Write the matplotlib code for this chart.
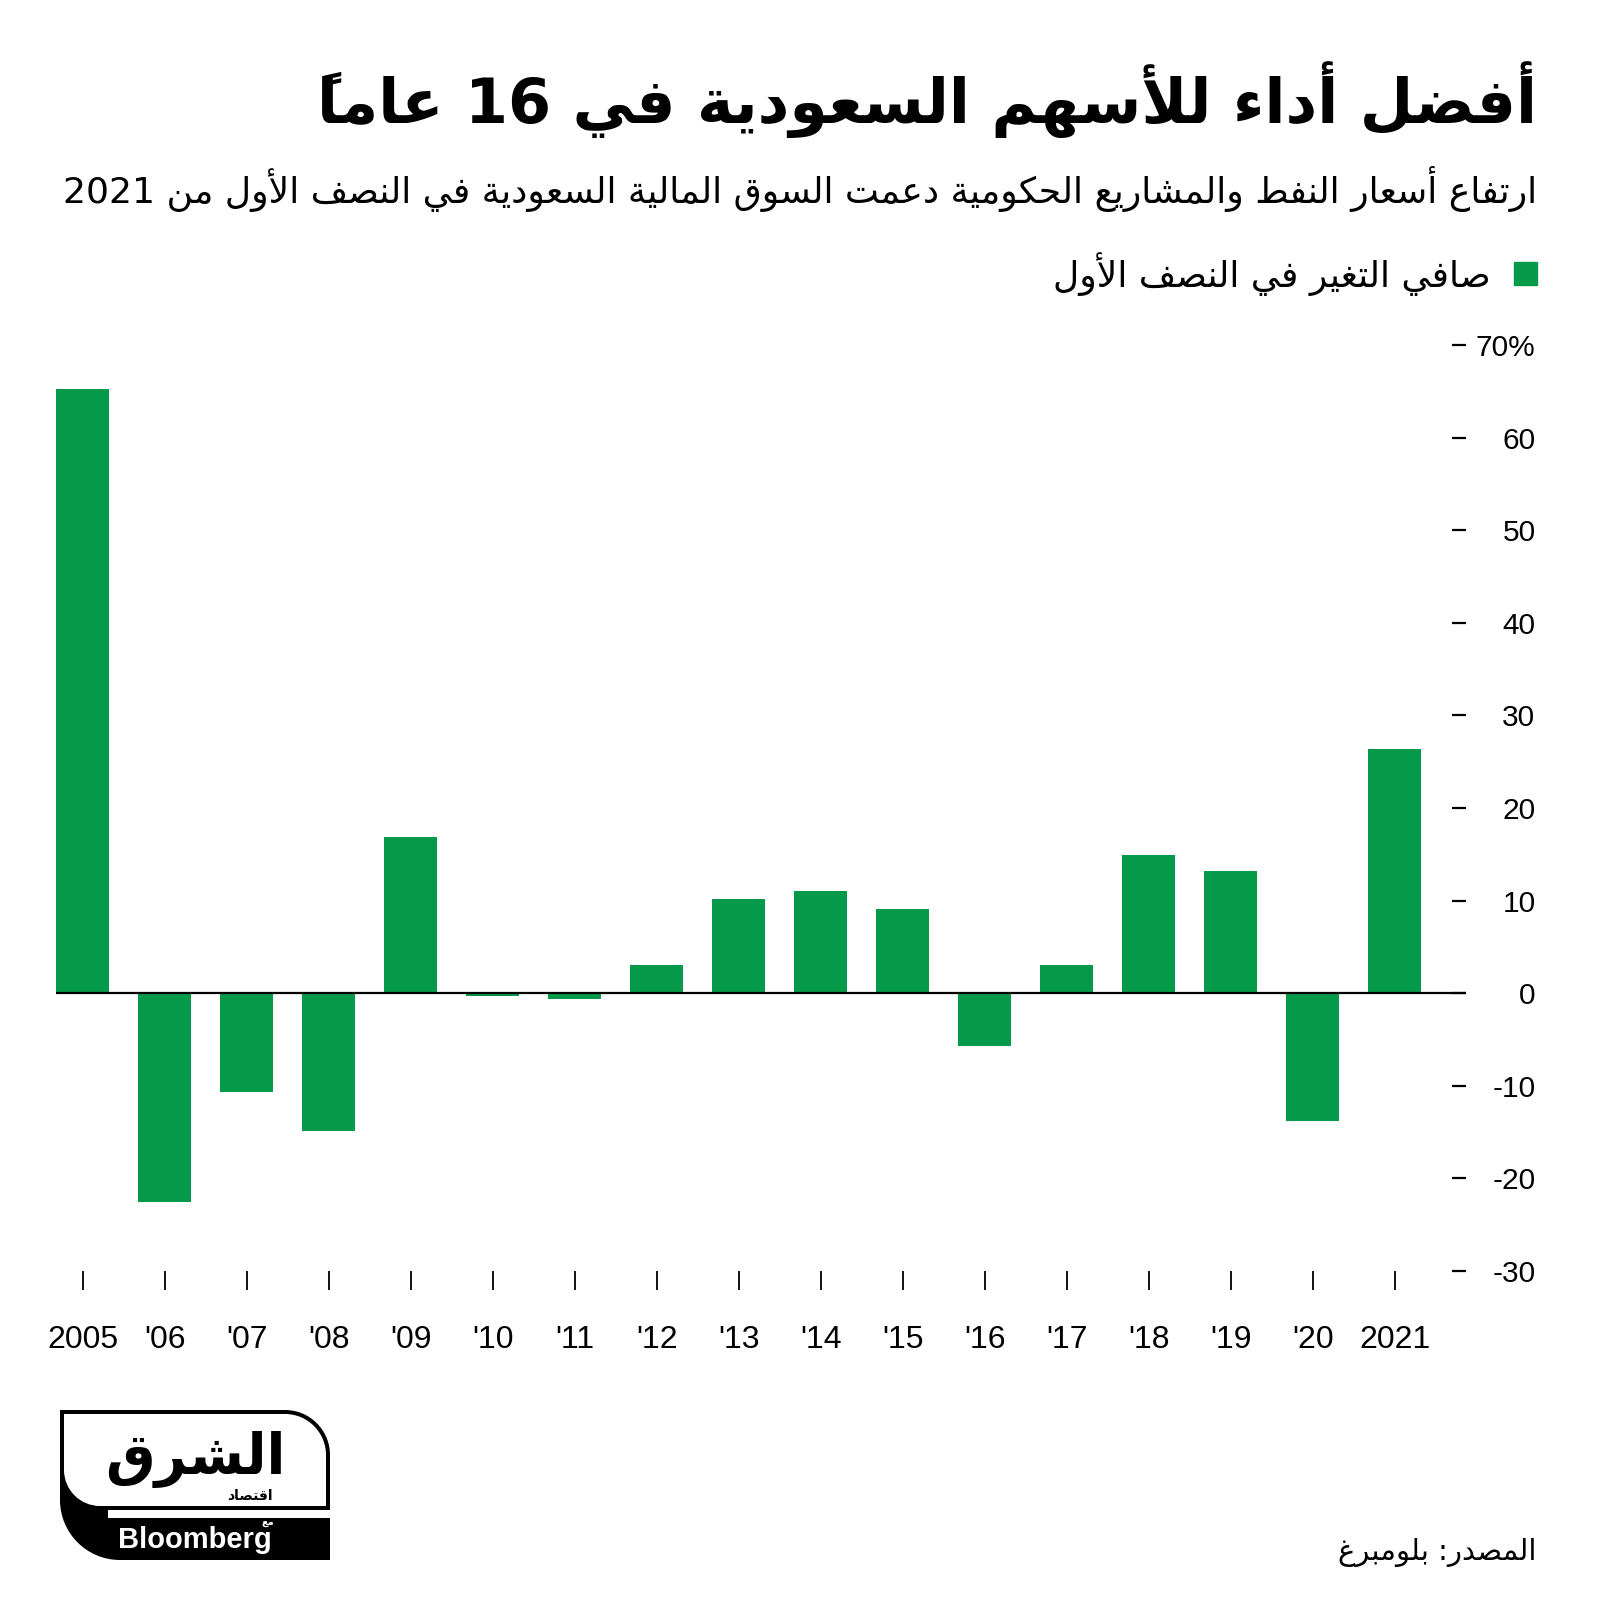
import matplotlib
matplotlib.use('Agg')
import matplotlib.pyplot as plt
from matplotlib.patches import PathPatch, Rectangle
from matplotlib.path import Path

# ---------------- data ----------------
years = ['2005', "'06", "'07", "'08", "'09", "'10", "'11", "'12", "'13",
         "'14", "'15", "'16", "'17", "'18", "'19", "'20", '2021']
values = [65.3, -22.5, -10.7, -14.9, 16.9, -0.3, -0.6, 3.0, 10.2,
          11.0, 9.1, -5.7, 3.0, 14.9, 13.2, -13.8, 26.4]
ytick_vals = [-30, -20, -10, 0, 10, 20, 30, 40, 50, 60, 70]
ytick_labels = ['-30', '-20', '-10', '0', '10', '20', '30', '40', '50', '60', '70%']

title = 'أفضل أداء للأسهم السعودية في 16 عاماً'
subtitle = 'ارتفاع أسعار النفط والمشاريع الحكومية دعمت السوق المالية السعودية في النصف الأول من 2021'
legend_label = 'صافي التغير في النصف الأول'
source = 'المصدر: بلومبرغ'
logo_main = 'الشرق'
logo_sub = 'اقتصاد'
logo_with = 'مع'
logo_bb = 'Bloomberg'

GREEN = '#059a4a'

# ---------------- minimal Arabic shaping + RTL ordering ----------------
AR_FORMS = {
    0x0621: (0xFE80, None, None, None),
    0x0622: (0xFE81, 0xFE82, None, None),
    0x0623: (0xFE83, 0xFE84, None, None),
    0x0624: (0xFE85, 0xFE86, None, None),
    0x0625: (0xFE87, 0xFE88, None, None),
    0x0626: (0xFE89, 0xFE8A, 0xFE8B, 0xFE8C),
    0x0627: (0xFE8D, 0xFE8E, None, None),
    0x0628: (0xFE8F, 0xFE90, 0xFE91, 0xFE92),
    0x0629: (0xFE93, 0xFE94, None, None),
    0x062A: (0xFE95, 0xFE96, 0xFE97, 0xFE98),
    0x062B: (0xFE99, 0xFE9A, 0xFE9B, 0xFE9C),
    0x062C: (0xFE9D, 0xFE9E, 0xFE9F, 0xFEA0),
    0x062D: (0xFEA1, 0xFEA2, 0xFEA3, 0xFEA4),
    0x062E: (0xFEA5, 0xFEA6, 0xFEA7, 0xFEA8),
    0x062F: (0xFEA9, 0xFEAA, None, None),
    0x0630: (0xFEAB, 0xFEAC, None, None),
    0x0631: (0xFEAD, 0xFEAE, None, None),
    0x0632: (0xFEAF, 0xFEB0, None, None),
    0x0633: (0xFEB1, 0xFEB2, 0xFEB3, 0xFEB4),
    0x0634: (0xFEB5, 0xFEB6, 0xFEB7, 0xFEB8),
    0x0635: (0xFEB9, 0xFEBA, 0xFEBB, 0xFEBC),
    0x0636: (0xFEBD, 0xFEBE, 0xFEBF, 0xFEC0),
    0x0637: (0xFEC1, 0xFEC2, 0xFEC3, 0xFEC4),
    0x0638: (0xFEC5, 0xFEC6, 0xFEC7, 0xFEC8),
    0x0639: (0xFEC9, 0xFECA, 0xFECB, 0xFECC),
    0x063A: (0xFECD, 0xFECE, 0xFECF, 0xFED0),
    0x0641: (0xFED1, 0xFED2, 0xFED3, 0xFED4),
    0x0642: (0xFED5, 0xFED6, 0xFED7, 0xFED8),
    0x0643: (0xFED9, 0xFEDA, 0xFEDB, 0xFEDC),
    0x0644: (0xFEDD, 0xFEDE, 0xFEDF, 0xFEE0),
    0x0645: (0xFEE1, 0xFEE2, 0xFEE3, 0xFEE4),
    0x0646: (0xFEE5, 0xFEE6, 0xFEE7, 0xFEE8),
    0x0647: (0xFEE9, 0xFEEA, 0xFEEB, 0xFEEC),
    0x0648: (0xFEED, 0xFEEE, None, None),
    0x0649: (0xFEEF, 0xFEF0, None, None),
    0x064A: (0xFEF1, 0xFEF2, 0xFEF3, 0xFEF4),
}
LAM_ALEF = {0x0622: (0xFEF5, 0xFEF6), 0x0623: (0xFEF7, 0xFEF8),
            0x0625: (0xFEF9, 0xFEFA), 0x0627: (0xFEFB, 0xFEFC)}


def _is_mark(ch):
    c = ord(ch)
    return 0x064B <= c <= 0x065F or c == 0x0670


def ar(text):
    toks = []
    i = 0
    while i < len(text):
        ch = text[i]
        cp = ord(ch)
        if _is_mark(ch) and toks:
            toks[-1]['marks'] += ch
            i += 1
            continue
        if cp == 0x0644 and i + 1 < len(text) and ord(text[i + 1]) in LAM_ALEF:
            iso, fin = LAM_ALEF[ord(text[i + 1])]
            toks.append({'forms': (iso, fin, None, None), 'marks': '', 'ch': None})
            i += 2
            continue
        if cp in AR_FORMS:
            toks.append({'forms': AR_FORMS[cp], 'marks': '', 'ch': None})
        else:
            toks.append({'forms': None, 'marks': '', 'ch': ch})
        i += 1
    clusters = []
    for j, t in enumerate(toks):
        f = t['forms']
        if f is None:
            clusters.append((t['ch'] + t['marks'], t['ch'].isascii() and t['ch'].isalnum()))
            continue
        prev = toks[j - 1]['forms'] if j > 0 else None
        nxt = toks[j + 1]['forms'] if j + 1 < len(toks) else None
        jp = prev is not None and prev[2] is not None and f[1] is not None
        jn = f[2] is not None and nxt is not None and nxt[1] is not None
        if jp and jn:
            g = f[3]
        elif jp:
            g = f[1]
        elif jn:
            g = f[2]
        else:
            g = f[0]
        # marks placed before the base in visual (left-to-right) order
        clusters.append((t['marks'] + chr(g), False))
    runs = []
    for s, ltr in clusters:
        if ltr and runs and runs[-1][1]:
            runs[-1] = (runs[-1][0] + s, True)
        else:
            runs.append((s, ltr))
    return ''.join(s for s, _ in reversed(runs))


# ---------------- figure ----------------
W, H = 1600, 1601
fig = plt.figure(figsize=(W / 100, H / 100), dpi=100)
fig.patch.set_facecolor('white')


def fx(px):
    return px / W


def fy(py):
    return 1 - py / H


ax = fig.add_axes([fx(56), fy(1271), fx(1466) - fx(56), fy(345) - fy(1271)])
x = list(range(len(years)))
ax.bar(x, values, width=0.65, color=GREEN, zorder=2)
ax.axhline(0, color='black', lw=1.6, zorder=3)
ax.set_xlim(-0.325, 16.87)
ax.set_ylim(-30, 70)
for s in ax.spines.values():
    s.set_visible(False)

ax.yaxis.tick_right()
ax.set_yticks(ytick_vals)
ax.set_yticklabels(ytick_labels, ha='right')
ax.tick_params(axis='y', direction='in', length=10, width=1.6, pad=50,
               labelsize=21.5, colors='black')
for lab in ax.get_yticklabels():
    lab.set_fontfamily('Liberation Sans')

ax.set_xticks(x)
ax.set_xticklabels(years)
ax.tick_params(axis='x', direction='out', length=14, width=1.3, pad=25,
               labelsize=23, colors='black')
for lab in ax.get_xticklabels():
    lab.set_fontfamily('Liberation Sans')

# ---------------- texts ----------------
fig.text(fx(1537), fy(100), ar(title), ha='right', va='center',
         fontsize=44.5, fontweight='bold', family='DejaVu Sans', color='black')
fig.text(fx(1537), fy(189), ar(subtitle), ha='right', va='center',
         fontsize=26, family='DejaVu Sans', color='black')
fig.patches.append(Rectangle((fx(1514), fy(285)), fx(23), 23 / H,
                             transform=fig.transFigure, color=GREEN))
fig.text(fx(1491), fy(274), ar(legend_label), ha='right', va='center',
         fontsize=26, family='DejaVu Sans', color='black')
fig.text(fx(1537), fy(1552), ar(source), ha='right', va='center',
         fontsize=21, family='DejaVu Sans', color='black')

# ---------------- logo ----------------
K = 0.5523


def tab_path(x0, x1, y0, y1, r1, r2):
    v = [(x0, y0), (x1 - r1, y0),
         (x1 - r1 + K * r1, y0), (x1, y0 + r1 - K * r1), (x1, y0 + r1),
         (x1, y1), (x0 + r2, y1),
         (x0 + r2 - K * r2, y1), (x0, y1 - r2 + K * r2), (x0, y1 - r2),
         (x0, y0)]
    c = [Path.MOVETO, Path.LINETO,
         Path.CURVE4, Path.CURVE4, Path.CURVE4,
         Path.LINETO, Path.LINETO,
         Path.CURVE4, Path.CURVE4, Path.CURVE4,
         Path.CLOSEPOLY]
    return Path([(fx(a), fy(b)) for a, b in v], c)


fig.patches.append(PathPatch(tab_path(60, 330, 1410, 1560, 45, 60),
                             transform=fig.transFigure, facecolor='black',
                             edgecolor='none'))
fig.patches.append(PathPatch(tab_path(64, 326, 1414, 1506, 41, 36),
                             transform=fig.transFigure, facecolor='white',
                             edgecolor='none'))
fig.patches.append(Rectangle((fx(108), fy(1518)), fx(330 - 108), 8 / H,
                             transform=fig.transFigure, facecolor='white',
                             edgecolor='none'))
fig.text(fx(195), fy(1460), ar(logo_main), ha='center', va='center',
         fontsize=40, fontweight='bold', family='DejaVu Sans', color='black')
fig.text(fx(273), fy(1496), ar(logo_sub), ha='right', va='center',
         fontsize=10, fontweight='bold', family='DejaVu Sans', color='black')
fig.text(fx(195), fy(1540), logo_bb, ha='center', va='center',
         fontsize=21, fontweight='bold', family='Liberation Sans', color='white')
fig.text(fx(274), fy(1522), ar(logo_with), ha='right', va='center',
         fontsize=7, fontweight='bold', family='DejaVu Sans', color='white')

fig.savefig('out.png', dpi=100)
